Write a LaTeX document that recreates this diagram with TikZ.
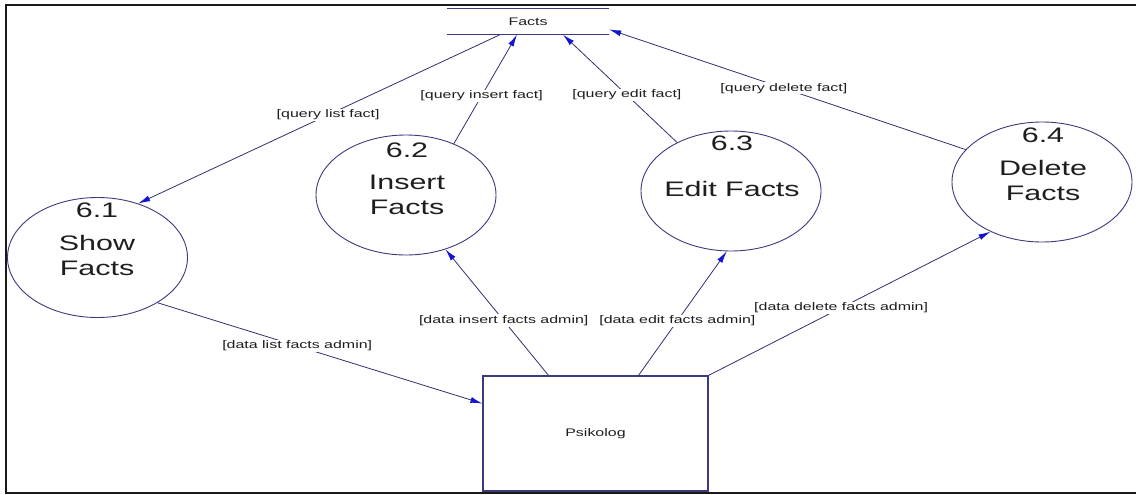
\documentclass[tikz,border=0pt]{standalone}
\usepackage{fontspec}
\usetikzlibrary{shapes.geometric,arrows.meta}
% wide sans used throughout the diagram
\newfontfamily\dfdfont[FakeStretch=1.45]{Liberation Sans}
\definecolor{edgeblue}{RGB}{48,48,110}
\definecolor{rimblue}{RGB}{58,58,125}
\definecolor{tipblue}{RGB}{20,20,210}
\definecolor{inkgray}{RGB}{30,30,30}

\begin{document}
\begin{tikzpicture}[x=1pt,y=-1pt,
  process/.style={ellipse, draw=rimblue, line width=0.9pt,
    minimum width=180pt, minimum height=120pt, inner sep=0pt},
  proctext/.style={align=center, text=inkgray, inner sep=0pt,
    font=\dfdfont\fontsize{21}{25}\selectfont},
  smalltext/.style={font=\dfdfont\fontsize{11}{13}\selectfont, text=inkgray},
  entity/.style={rectangle, draw=rimblue, line width=1.2pt,
    minimum width=225pt, minimum height=115pt, inner sep=0pt, smalltext},
  store/.style={minimum width=162pt, minimum height=26pt, inner sep=0pt, smalltext},
  storeline/.style={draw=rimblue, line width=1.3pt},
  flow/.style={draw=edgeblue, line width=0.8pt,
    -{Latex[length=12pt,width=6pt,color=tipblue]}},
  flowlabel/.style={fill=white, inner sep=1pt, smalltext}
]
\useasboundingbox (0,0) rectangle (1136,495);

% outer frame (open on the right)
\draw[line width=2pt, black!90] (1136,5) -- (6,5) -- (6,492.8) -- (1136,492.8);

% data store
\node[store] (facts) at (528,21.5) {Facts};
\draw[storeline] (facts.north west) -- (facts.north east)
                 (facts.south west) -- (facts.south east);

% processes
\node[process] (p1) at (97.5,257.5) {};
\node[process] (p2) at (406,195) {};
\node[process] (p3) at (731,191) {};
\node[process] (p4) at (1042,182) {};

\node[proctext] (t1) at (97,239) {6.1\\[8pt]Show\\Facts};
\node[proctext] (t2) at (407,179) {6.2\\[7pt]Insert\\Facts};
\node[proctext] (t3) at (732,166.5) {6.3\\[21pt]Edit Facts};
\node[proctext] (t4) at (1043,164.5) {6.4\\[8pt]Delete\\Facts};

% external entity
\node[entity] (psik) at (595.5,433.5) {Psikolog};

% flows between store and processes
\draw[flow] ([xshift=-28pt]facts.south) -- node[flowlabel,pos=0.475]{[query list fact]} (p1.53);
\draw[flow] (p2.47) -- node[flowlabel,pos=0.44]{[query insert fact]} ([xshift=-11pt]facts.south);
\draw[flow] (p3.138) -- node[flowlabel,pos=0.44]{[query edit fact]} ([xshift=35pt]facts.south);
\draw[flow] (p4.157) -- node[flowlabel,pos=0.51]{[query delete fact]} ([yshift=-8pt]facts.east);

% flows between entity and processes
\draw[flow] (p1.-37) -- node[flowlabel,pos=0.43]{[data list facts admin]} ([yshift=30pt]psik.west);
\draw[flow] ([xshift=-47pt]psik.north) -- node[flowlabel,pos=0.435]{[data insert facts admin]} (p2.-54);
\draw[flow] ([xshift=43pt]psik.north) -- node[flowlabel,pos=0.44]{[data edit facts admin]} (p3.-94);
\draw[flow] (psik.north east) -- node[flowlabel,pos=0.47]{[data delete facts admin]} (p4.-136);
\end{tikzpicture}
\end{document}
